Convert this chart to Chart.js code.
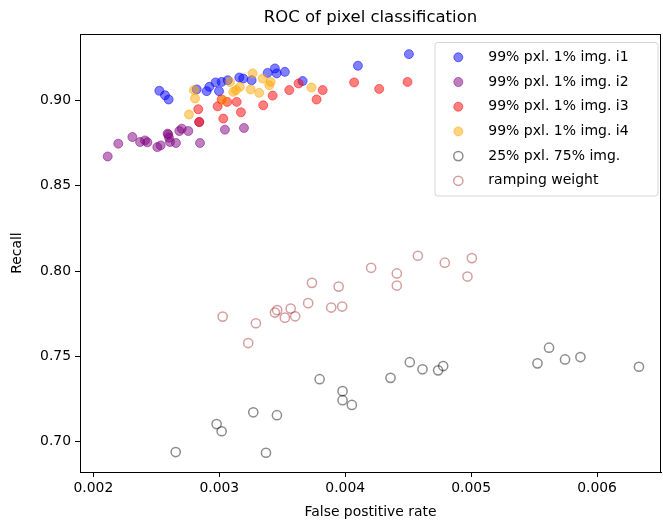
<!DOCTYPE html>
<html>
<head>
<meta charset="utf-8">
<script src="https://cdn.jsdelivr.net/npm/chart.js@4.4.1/dist/chart.umd.min.js"></script>
<style>
  html, body { margin: 0; padding: 0; background: #fff; }
  #wrap { width: 663px; height: 524px; }
</style>
</head>
<body>
<div id="wrap"><canvas id="roc" width="663" height="524"></canvas></div>
<script>
// series values
var seriesLabels = ['99% pxl. 1% img. i1', '99% pxl. 1% img. i2', '99% pxl. 1% img. i3',
                    '99% pxl. 1% img. i4', '25% pxl. 75% img.', 'ramping weight'];

var i1X = [0.002524, 0.002569, 0.002598, 0.002821, 0.0029, 0.002921, 0.002971, 0.002998, 0.003019, 0.003067,
           0.003159, 0.00319, 0.003257, 0.003384, 0.003442, 0.003456, 0.003521, 0.003662, 0.004101, 0.004506];
var i1Y = [0.9057, 0.9031, 0.9006, 0.9065, 0.9055, 0.908, 0.9106, 0.9055, 0.9109, 0.9119,
           0.9135, 0.9129, 0.9119, 0.9162, 0.9188, 0.9159, 0.9168, 0.9114, 0.9204, 0.9272];

var i2X = [0.002114, 0.002198, 0.00231, 0.002371, 0.00241, 0.002429, 0.002508, 0.002535, 0.00259, 0.002595,
           0.002601, 0.002609, 0.002656, 0.002683, 0.002702, 0.002754, 0.002841, 0.002847, 0.003045, 0.003196];
var i2Y = [0.8672, 0.8747, 0.8786, 0.8757, 0.8766, 0.8755, 0.8727, 0.8737, 0.8806, 0.8800,
           0.8782, 0.8757, 0.8751, 0.8821, 0.8835, 0.8821, 0.8874, 0.8751, 0.8829, 0.8839];

var i3X = [0.002841, 0.002833, 0.002987, 0.003019, 0.003032, 0.003063, 0.003138, 0.003172, 0.003349,
           0.003424, 0.003556, 0.00363, 0.003773, 0.003821, 0.004071, 0.00427, 0.004495];
var i3Y = [0.8874, 0.8949, 0.8966, 0.9006, 0.8894, 0.8992, 0.8992, 0.8931, 0.8972,
           0.9029, 0.9061, 0.91, 0.9006, 0.9061, 0.9106, 0.9068, 0.9109];

var i4X = [0.00276, 0.002807, 0.002799, 0.003032, 0.003085, 0.003111, 0.003133, 0.003164,
           0.003249, 0.003265, 0.003317, 0.003344, 0.003397, 0.003408, 0.003733];
var i4Y = [0.8918, 0.9012, 0.9061, 0.9002, 0.9109, 0.9051, 0.9061, 0.908,
           0.9065, 0.9159, 0.9045, 0.9129, 0.909, 0.9109, 0.9076];

var mixX = [0.002654, 0.002979, 0.003019, 0.00327, 0.003371, 0.003458, 0.003797, 0.003979, 0.003979, 0.004053,
            0.00436, 0.004513, 0.004614, 0.004738, 0.004778, 0.005527, 0.005619, 0.005746, 0.005868, 0.006333];
var mixY = [0.6939, 0.7103, 0.7061, 0.7172, 0.6935, 0.7155, 0.7366, 0.7296, 0.7243, 0.7215,
            0.7374, 0.7466, 0.7424, 0.7418, 0.7443, 0.7459, 0.7551, 0.7482, 0.7496, 0.7439];

var rampX = [0.003027, 0.003291, 0.00323, 0.003442, 0.00346, 0.003521, 0.003567, 0.003603, 0.003706, 0.003736,
             0.003889, 0.003976, 0.003948, 0.004206, 0.00441, 0.00441, 0.004577, 0.004791, 0.004971, 0.005006];
var rampY = [0.7733, 0.7694, 0.7578, 0.7757, 0.7771, 0.7727, 0.778, 0.7735, 0.7812, 0.7931,
             0.7786, 0.7792, 0.7909, 0.8019, 0.7986, 0.7915, 0.809, 0.8049, 0.7968, 0.8076];

var xTicks = [0.002, 0.003, 0.004, 0.005, 0.006];
var yTicks = [0.70, 0.75, 0.80, 0.85, 0.90];

var FONT = "'DejaVu Sans', sans-serif";

var toPoints = function(xs, ys) {
	var pts = [];
	for (var i = 0; i < xs.length; i++) {
		pts.push({ x: xs[i], y: ys[i] });
	}
	return pts;
};

var filled = function(rgb) {
	return {
		pointRadius: 4.5, pointHoverRadius: 4.5, pointBorderWidth: 1,
		pointBackgroundColor: 'rgba(' + rgb + ',0.5)', pointBorderColor: 'rgba(' + rgb + ',0.5)'
	};
};
var hollow = function(rgba) {
	return {
		pointRadius: 4.6, pointHoverRadius: 4.6, pointBorderWidth: 1.5,
		pointBackgroundColor: 'rgba(0,0,0,0)', pointBorderColor: rgba
	};
};

var styles = [filled('0,0,255'), filled('128,0,128'), filled('255,0,0'), filled('255,165,0'),
              hollow('rgba(0,0,0,0.45)'), hollow('rgba(165,42,42,0.45)')];
var allX = [i1X, i2X, i3X, i4X, mixX, rampX];
var allY = [i1Y, i2Y, i3Y, i4Y, mixY, rampY];

var datasets = [];
for (var s = 0; s < seriesLabels.length; s++) {
	var ds = Object.assign({
		label: seriesLabels[s],
		data: toPoints(allX[s], allY[s]),
		showLine: false,
		order: seriesLabels.length - s
	}, styles[s]);
	datasets.push(ds);
}

// matplotlib-like frame, title and legend box
var mplDecor = {
	id: 'mplDecor',
	afterDraw: function(chart) {
		var ctx = chart.ctx;
		var a = chart.chartArea;
		ctx.save();
		ctx.strokeStyle = '#000';
		ctx.lineWidth = 1;
		ctx.strokeRect(a.left + 0.5, a.top + 0.5, a.right - a.left - 1, a.bottom - a.top);

		ctx.fillStyle = '#000';
		ctx.font = '16.5px ' + FONT;
		ctx.textAlign = 'center';
		ctx.textBaseline = 'middle';
		ctx.fillText('ROC of pixel classification', (a.left + a.right) / 2, 18);

		// legend
		var bx = 435, by = 42.5, bw = 223, bh = 153.5, r = 3;
		ctx.beginPath();
		ctx.moveTo(bx + r, by);
		ctx.arcTo(bx + bw, by, bx + bw, by + bh, r);
		ctx.arcTo(bx + bw, by + bh, bx, by + bh, r);
		ctx.arcTo(bx, by + bh, bx, by, r);
		ctx.arcTo(bx, by, bx + bw, by, r);
		ctx.closePath();
		ctx.fillStyle = 'rgba(255,255,255,0.8)';
		ctx.fill();
		ctx.strokeStyle = '#d6d6d6';
		ctx.stroke();

		ctx.font = '14px ' + FONT;
		ctx.textAlign = 'left';
		for (var i = 0; i < chart.data.datasets.length; i++) {
			var d = chart.data.datasets[i];
			var cy = 57.3 + i * 24.7;
			ctx.beginPath();
			ctx.arc(458.3, cy, d.pointRadius, 0, Math.PI * 2);
			ctx.fillStyle = d.pointBackgroundColor;
			ctx.fill();
			ctx.lineWidth = d.pointBorderWidth;
			ctx.strokeStyle = d.pointBorderColor;
			ctx.stroke();
			ctx.fillStyle = '#000';
			ctx.fillText(d.label, 488.3, cy);
		}
		ctx.restore();
	}
};

var chart = new Chart(document.getElementById('roc'), {
	type: 'scatter',
	data: { datasets: datasets },
	options: {
		responsive: false,
		animation: false,
		events: [],
		layout: { autoPadding: false, padding: { top: 34, right: 2, bottom: 0, left: 0 } },
		plugins: {
			legend: { display: false },
			title: { display: false },
			tooltip: { enabled: false }
		},
		scales: {
			x: {
				type: 'linear',
				min: 0.001894,
				max: 0.006508,
				afterBuildTicks: function(scale) {
					scale.ticks = xTicks.map(function(v) { return { value: v }; });
				},
				afterFit: function(scale) {
					scale.height = 52;
					scale.paddingLeft = 0;
					scale.paddingRight = 0;
				},
				border: { color: '#000', width: 1 },
				grid: { drawOnChartArea: false, drawTicks: true, tickLength: 5, color: '#000' },
				ticks: {
					color: '#000', padding: 3,
					font: { family: FONT, size: 13.9 },
					maxRotation: 0,
					callback: function(v) { return v.toFixed(3); }
				},
				title: {
					display: true, text: 'False postitive rate', color: '#000',
					font: { family: FONT, size: 13.9 },
					padding: { top: 0, bottom: 3 }
				}
			},
			y: {
				type: 'linear',
				min: 0.6822,
				max: 0.939,
				afterBuildTicks: function(scale) {
					scale.ticks = yTicks.map(function(v) { return { value: v }; });
				},
				afterFit: function(scale) {
					scale.width = 80;
					scale.paddingTop = 0;
					scale.paddingBottom = 0;
				},
				border: { color: '#000', width: 1 },
				grid: { drawOnChartArea: false, drawTicks: true, tickLength: 5, color: '#000' },
				ticks: {
					color: '#000', padding: 4,
					font: { family: FONT, size: 13.9 },
					callback: function(v) { return v.toFixed(2); }
				},
				title: {
					display: true, text: 'Recall', color: '#000',
					font: { family: FONT, size: 13.9 },
					padding: { top: 9, bottom: 0 }
				}
			}
		}
	},
	plugins: [mplDecor]
});
</script>
</body>
</html>
